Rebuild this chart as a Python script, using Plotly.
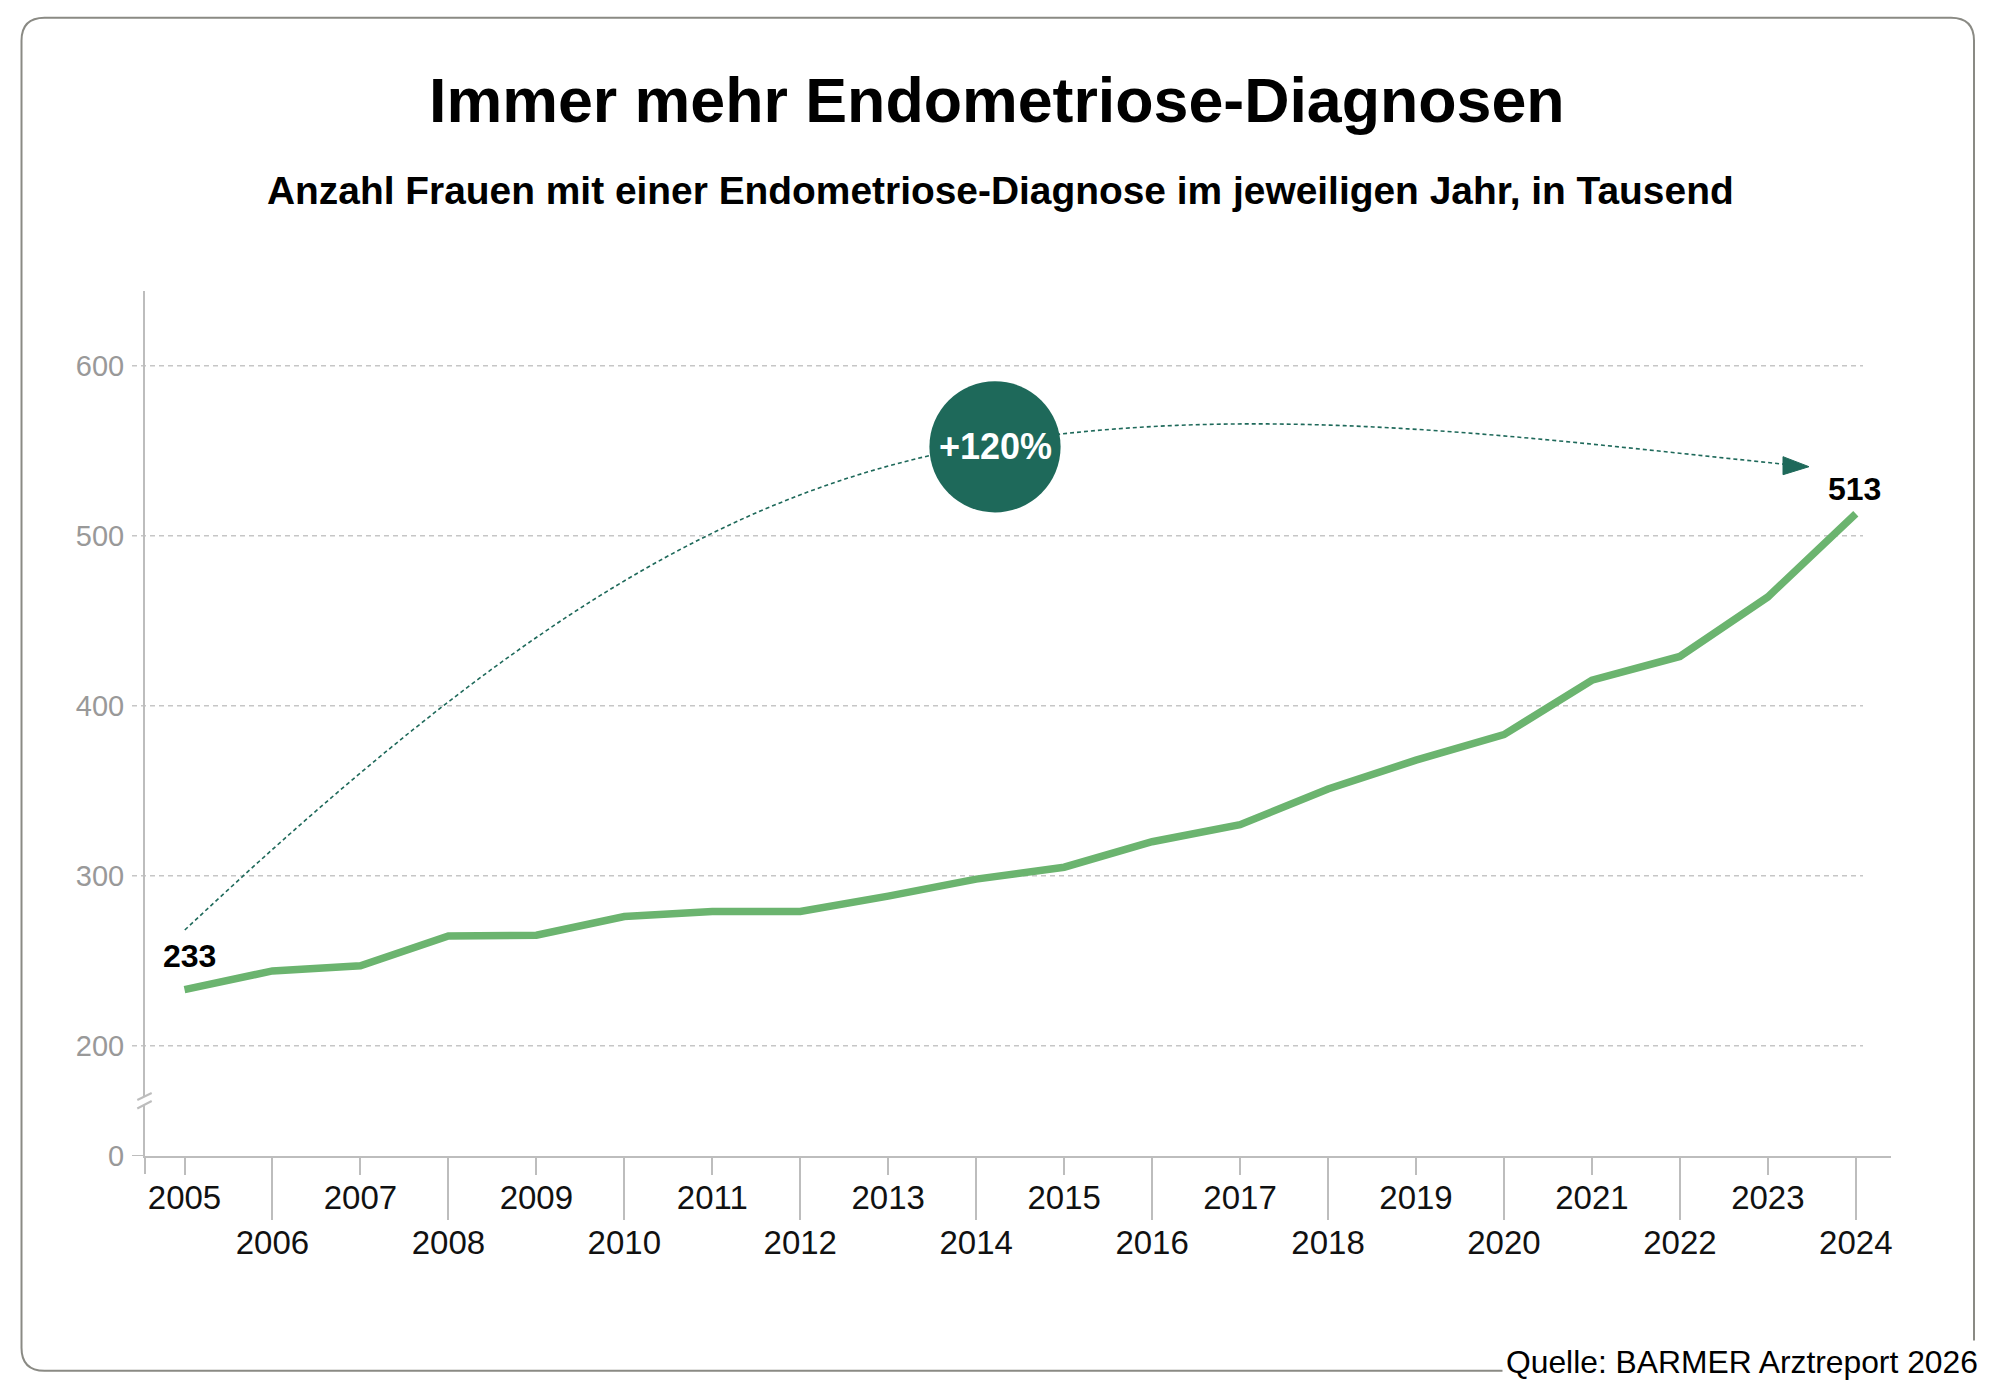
import plotly.graph_objects as go

# ---------------- data ----------------
years = list(range(2005, 2025))
values = [233, 244, 247, 264.5, 265, 276, 279, 279, 288, 298,
          305, 320, 330, 351, 368, 383, 415, 429, 464, 513]
y_tick_vals = [200, 300, 400, 500, 600]
y_tick_text = ["200", "300", "400", "500", "600"]
first_label = "233"
last_label = "513"
growth_label = "+120%"
title_text = "Immer mehr Endometriose-Diagnosen"
subtitle_text = "Anzahl Frauen mit einer Endometriose-Diagnose im jeweiligen Jahr, in Tausend"
source_text = "Quelle: BARMER Arztreport 2026"

# ---------------- geometry ----------------
W, H = 2000, 1392
PL, PR, PT, PB = 145, 1891, 291, 1156      # plot area in px
PW, PH = PR - PL, PB - PT
XR = [2004.551, 2024.40]
YR = [135.1, 644.0]

FONT = "Liberation Sans, Arial, sans-serif"
GREEN = "#6bb46f"
TEAL = "#1e695a"
GRID = "#c6c6c6"
AXIS = "#bdbdbd"


def pxx(px):
    return (px - PL) / PW


def pxy(py):
    return (PB - py) / PH


def dx(px):
    return XR[0] + (px - PL) / PW * (XR[1] - XR[0])


def dy(py):
    return YR[0] + (PB - py) / PH * (YR[1] - YR[0])


fig = go.Figure()

fig.add_trace(go.Scatter(
    x=years, y=values, mode="lines",
    line=dict(color=GREEN, width=7.5),
    showlegend=False, hoverinfo="skip",
))
# helper trace so that the second x axis exists
fig.add_trace(go.Scatter(x=[years[1]], y=[values[1]], xaxis="x2", mode="markers",
                         marker=dict(opacity=0), showlegend=False, hoverinfo="skip"))

shapes = []

# dashed grid lines
for v in y_tick_vals:
    shapes.append(dict(type="line", xref="paper", yref="y",
                       x0=pxx(132), x1=pxx(1863), y0=v, y1=v,
                       line=dict(color=GRID, width=1.5, dash="5px,4px"), layer="below"))
# zero tick stub
shapes.append(dict(type="line", xref="paper", yref="y", x0=pxx(132), x1=0,
                   y0=YR[0], y1=YR[0], line=dict(color=AXIS, width=2)))
# start tick of x axis
shapes.append(dict(type="line", xref="paper", yref="paper", x0=0, x1=0,
                   y0=0, y1=pxy(1174), line=dict(color=AXIS, width=2)))

# axis break
shapes.append(dict(type="rect", xref="paper", yref="paper",
                   x0=pxx(141), x1=pxx(149), y0=pxy(1104.8), y1=pxy(1096.3),
                   fillcolor="white", line=dict(width=0)))
for (a, b) in [((137.3, 1100), (151.7, 1093)), ((137.3, 1108.5), (151.7, 1101))]:
    shapes.append(dict(type="line", xref="paper", yref="paper",
                       x0=pxx(a[0]), y0=pxy(a[1]), x1=pxx(b[0]), y1=pxy(b[1]),
                       line=dict(color=AXIS, width=2)))

# dotted arc (two cubic segments meeting under the circle)
arc_px = [(184.8, 930), (514.8, 619.8), (735, 484.6), (995, 443),
          (1265, 399.8), (1539, 439.7), (1800, 465.8)]
p = [(dx(a), dy(b)) for a, b in arc_px]
path = "M {:.4f},{:.4f} C {:.4f},{:.4f} {:.4f},{:.4f} {:.4f},{:.4f} C {:.4f},{:.4f} {:.4f},{:.4f} {:.4f},{:.4f}".format(
    *[c for pt in p for c in pt])
shapes.append(dict(type="path", xref="x", yref="y", path=path,
                   line=dict(color=TEAL, width=1.6, dash="4px,3px")))

# arrow head
shapes.append(dict(type="path", xref="x", yref="y",
                   xsizemode="pixel", ysizemode="pixel",
                   xanchor=dx(1809), yanchor=dy(466.7),
                   path="M 0,0 L -26,10 L -26,-8 Z",
                   fillcolor=TEAL, line=dict(color=TEAL, width=1)))

# circle
cx, cy, r = dx(995), dy(446.8), 65.6
shapes.append(dict(type="circle", xref="x", yref="y",
                   xsizemode="pixel", ysizemode="pixel",
                   xanchor=cx, yanchor=cy, x0=-r, x1=r, y0=-r, y1=r,
                   fillcolor=TEAL, line=dict(color=TEAL, width=0)))

# rounded outer frame
bx0, by0, bx1, by1, rr = 21.5, 17.7, 1974, 1370.7, 23
pts = [
    ("M", (bx0 + rr, by0)), ("L", (bx1 - rr, by0)), ("Q", (bx1, by0), (bx1, by0 + rr)),
    ("L", (bx1, by1 - rr)), ("Q", (bx1, by1), (bx1 - rr, by1)),
    ("L", (bx0 + rr, by1)), ("Q", (bx0, by1), (bx0, by1 - rr)),
    ("L", (bx0, by0 + rr)), ("Q", (bx0, by0), (bx0 + rr, by0)),
]
segs = []
for item in pts:
    cmd = item[0]
    coords = " ".join("{:.5f},{:.5f}".format(pxx(a), pxy(b)) for a, b in item[1:])
    segs.append(cmd + " " + coords)
shapes.append(dict(type="path", xref="paper", yref="paper", path=" ".join(segs) + " Z",
                   line=dict(color="#8a8a84", width=2), fillcolor="rgba(0,0,0,0)"))

annotations = [
    dict(text="<b>" + title_text + "</b>", xref="paper", yref="paper",
         x=pxx(997), y=pxy(100), xanchor="center", yanchor="middle", showarrow=False,
         font=dict(family=FONT, size=62.7, color="black")),
    dict(text="<b>" + subtitle_text + "</b>", xref="paper", yref="paper",
         x=pxx(1000), y=pxy(190), xanchor="center", yanchor="middle", showarrow=False,
         font=dict(family=FONT, size=38.9, color="black")),
    dict(text="<b>" + first_label + "</b>", x=years[0], y=values[0], yshift=34, xshift=5,
         showarrow=False, font=dict(family=FONT, size=32, color="black")),
    dict(text="<b>" + last_label + "</b>", x=years[-1], y=values[-1], yshift=25, xshift=-1,
         showarrow=False, font=dict(family=FONT, size=32, color="black")),
    dict(text="<b>" + growth_label + "</b>", x=cx, y=cy, showarrow=False,
         font=dict(family=FONT, size=36, color="white")),
    dict(text=source_text, xref="paper", yref="paper", x=pxx(1982), y=pxy(1361.7),
         xanchor="right", yanchor="middle", showarrow=False, bgcolor="white", borderpad=3,
         font=dict(family=FONT, size=31.8, color="black")),
]

odd_years = years[0::2]
even_years = years[1::2]

fig.update_layout(
    width=W, height=H,
    margin=dict(l=PL, r=W - PR, t=PT, b=H - PB, autoexpand=False),
    paper_bgcolor="white", plot_bgcolor="white",
    shapes=shapes, annotations=annotations,
    xaxis=dict(range=XR, showgrid=False, zeroline=False,
               showline=True, linecolor=AXIS, linewidth=2,
               tickmode="array", tickvals=odd_years, ticktext=[str(y) for y in odd_years],
               ticks="outside", ticklen=17, tickwidth=2, tickcolor=AXIS,
               tickfont=dict(family=FONT, size=33, color="#111111"), ticklabelstandoff=-6),
    xaxis2=dict(range=XR, overlaying="x", anchor="y", side="bottom", showgrid=False,
                zeroline=False, showline=False,
                tickmode="array", tickvals=even_years, ticktext=[str(y) for y in even_years],
                ticks="outside", ticklen=63, tickwidth=2, tickcolor=AXIS,
                tickfont=dict(family=FONT, size=33, color="#111111"), ticklabelstandoff=-6),
    yaxis=dict(range=YR, showgrid=False, zeroline=False,
               showline=True, linecolor=AXIS, linewidth=2,
               tickmode="array", tickvals=[YR[0]] + y_tick_vals, ticktext=["0"] + y_tick_text,
               ticks="outside", ticklen=13, tickcolor="rgba(0,0,0,0)",
               tickfont=dict(family=FONT, size=29, color="#999999"), ticklabelstandoff=0),
)

fig.write_html("out.html", config={"displayModeBar": False},
               post_script="document.body.style.margin='0';")
